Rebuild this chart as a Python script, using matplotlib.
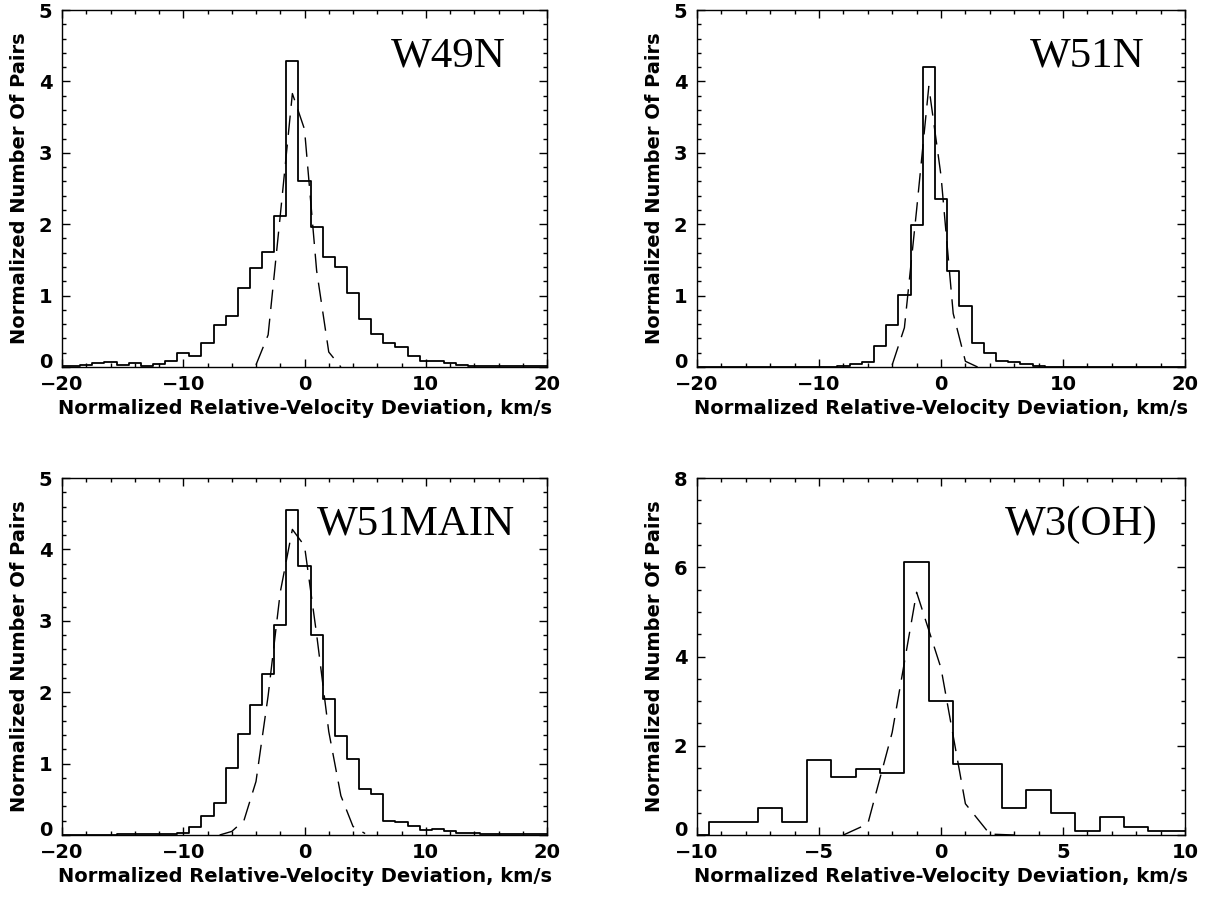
# -*- coding: utf-8 -*-
"""
Histograms of normalized relative-velocity deviations of maser pairs,
with the gaussian fit overplotted, for four star-forming regions.
"""

import numpy as np
import matplotlib
matplotlib.use('Agg')
import matplotlib.pyplot as plt
import matplotlib.transforms as mtransforms
from matplotlib.ticker import MultipleLocator

# histogram bins (1 km/s wide, centred on integers)
bins_wide = np.arange(-20, 21)
bins_narrow = np.arange(-10, 11)

w49n_hist = [0.01, 0.02, 0.03, 0.05, 0.065, 0.03, 0.06, 0.02, 0.04, 0.08,
             0.20, 0.16, 0.33, 0.59, 0.71, 1.11, 1.38, 1.61, 2.12, 4.29,
             2.60, 1.96, 1.54, 1.40, 1.04, 0.67, 0.46, 0.33, 0.28, 0.16,
             0.09, 0.08, 0.05, 0.03, 0.02, 0.02, 0.01, 0.01, 0.01, 0.01,
             0.01]
w51n_hist = [0.0, 0.0, 0.0, 0.0, 0.0, 0.0, 0.0, 0.0, 0.0, 0.0,
             0.0, 0.0, 0.01, 0.04, 0.07, 0.29, 0.59, 1.01, 1.99, 4.20,
             2.35, 1.34, 0.85, 0.34, 0.20, 0.08, 0.065, 0.04, 0.01, 0.0,
             0.0, 0.0, 0.0, 0.0, 0.0, 0.0, 0.0, 0.0, 0.0, 0.0,
             0.0]
w51main_hist = [0.005, 0.005, 0.005, 0.005, 0.005, 0.01, 0.01, 0.01, 0.015, 0.02,
                0.03, 0.11, 0.26, 0.45, 0.94, 1.42, 1.82, 2.25, 2.94, 4.55,
                3.77, 2.80, 1.90, 1.39, 1.06, 0.65, 0.57, 0.20, 0.18, 0.13,
                0.07, 0.09, 0.05, 0.03, 0.025, 0.015, 0.015, 0.015, 0.015, 0.01,
                0.01]
w3oh_hist = [0.0, 0.30, 0.30, 0.60, 0.30, 1.69, 1.29, 1.49, 1.39, 6.11,
             3.01, 1.60, 1.60, 0.60, 1.00, 0.50, 0.10, 0.40, 0.19, 0.10,
             0.10]

# gaussian fits, evaluated at the bin centres
w49n_fit_x = [-4, -3, -2, -1, 0, 1, 2, 3]
w49n_fit = [0.03, 0.45, 2.12, 3.83, 3.33, 1.35, 0.21, 0.0]
w51n_fit_x = [-4, -3, -2, -1, 0, 1, 2, 3]
w51n_fit = [0.03, 0.55, 2.20, 3.93, 2.68, 0.75, 0.08, 0.0]
w51main_fit_x = [-7, -6, -5, -4, -3, -2, -1, 0, 1, 2, 3, 4, 5]
w51main_fit = [0.0, 0.05, 0.20, 0.75, 1.95, 3.40, 4.28, 4.05, 2.81, 1.45, 0.55, 0.12, 0.02]
w3oh_fit_x = [-4, -3, -2, -1, 0, 1, 2, 3]
w3oh_fit = [0.0, 0.25, 2.30, 5.44, 3.74, 0.70, 0.02, 0.0]

xlabel = 'Normalized Relative-Velocity Deviation, km/s'
ylabel = 'Normalized Number Of Pairs'

# panel definitions
W, H = 1210, 899
panels = [{'name': 'W49N', 'x': bins_wide, 'y': w49n_hist,
           'fx': w49n_fit_x, 'fy': w49n_fit,
           'box': (62, 10, 547, 367), 'xlim': (-20, 20), 'ylim': (0, 5),
           'xmaj': 10, 'xmin': 2, 'ymaj': 1, 'ymin': 0.2, 'tx': 0.915},
          {'name': 'W51N', 'x': bins_wide, 'y': w51n_hist,
           'fx': w51n_fit_x, 'fy': w51n_fit,
           'box': (697, 10, 1185, 367), 'xlim': (-20, 20), 'ylim': (0, 5),
           'xmaj': 10, 'xmin': 2, 'ymaj': 1, 'ymin': 0.2, 'tx': 0.918},
          {'name': 'W51MAIN', 'x': bins_wide, 'y': w51main_hist,
           'fx': w51main_fit_x, 'fy': w51main_fit,
           'box': (62, 478, 547, 835), 'xlim': (-20, 20), 'ylim': (0, 5),
           'xmaj': 10, 'xmin': 2, 'ymaj': 1, 'ymin': 0.2, 'tx': 0.935},
          {'name': 'W3(OH)', 'x': bins_narrow, 'y': w3oh_hist,
           'fx': w3oh_fit_x, 'fy': w3oh_fit,
           'box': (697, 478, 1185, 835), 'xlim': (-10, 10), 'ylim': (0, 8),
           'xmaj': 5, 'xmin': 1, 'ymaj': 2, 'ymin': 0.5, 'tx': 0.943},
          ]

bold = {'family': 'DejaVu Sans', 'weight': 'bold', 'size': 14}

fig = plt.figure(figsize=(W / 100, H / 100), dpi=100)
# the "0" label is lifted clear of the x tick labels
lift = mtransforms.ScaledTranslation(0, 5 / 72, fig.dpi_scale_trans)

for p in panels:
    x0, y0, x1, y1 = p['box']
    ax = fig.add_axes([x0 / W, 1 - y1 / H, (x1 - x0) / W, (y1 - y0) / H])
    ax.step(p['x'], p['y'], where='mid', color='black', lw=1.3)
    ax.plot(p['fx'], p['fy'], color='black', lw=1.0, dashes=(14, 7))
    ax.set_xlim(p['xlim'])
    ax.set_ylim(p['ylim'])
    ax.xaxis.set_major_locator(MultipleLocator(p['xmaj']))
    ax.xaxis.set_minor_locator(MultipleLocator(p['xmin']))
    ax.yaxis.set_major_locator(MultipleLocator(p['ymaj']))
    ax.yaxis.set_minor_locator(MultipleLocator(p['ymin']))
    ax.tick_params(which='both', direction='in', top=True, right=True, width=1.0)
    ax.tick_params(which='major', length=6)
    ax.tick_params(which='minor', length=3)
    ax.tick_params(axis='x', pad=6)
    ax.tick_params(axis='y', pad=7)
    for lab in ax.get_xticklabels() + ax.get_yticklabels():
        lab.set_fontproperties(bold)
    ylocs = list(ax.yaxis.get_majorticklocs())
    yticks = ax.yaxis.get_major_ticks(len(ylocs))
    zero_label = yticks[ylocs.index(0)].label1
    zero_label.set_transform(zero_label.get_transform() + lift)
    for s in ax.spines.values():
        s.set_linewidth(1.0)
    ax.set_xlabel(xlabel, fontdict=bold, labelpad=3)
    ax.set_ylabel(ylabel, fontdict=bold, labelpad=7)
    ax.text(p['tx'], 0.87, p['name'], transform=ax.transAxes, ha='right', va='center',
            family='Liberation Serif', fontsize=31)

fig.savefig('out.png', dpi=100)
